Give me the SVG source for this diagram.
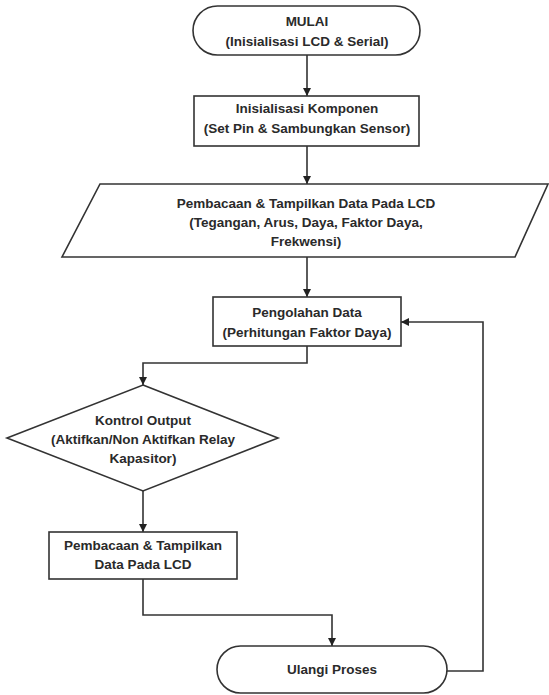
<svg xmlns="http://www.w3.org/2000/svg" width="549" height="695" viewBox="0 0 549 695">
<style>
.s{fill:#fff;stroke:#333;stroke-width:1.6}
.t{font-family:"Liberation Sans",Arial,sans-serif;font-weight:bold;font-size:13.5px;fill:#2a2a2a;text-anchor:middle}
.c{fill:none;stroke:#333;stroke-width:1.6}
</style>
<defs>
<marker id="a" viewBox="0 0 10 10" refX="10" refY="5" markerWidth="8" markerHeight="8" markerUnits="userSpaceOnUse" orient="auto">
<path d="M0,0L10,5L0,10z" fill="#222"/>
</marker>
</defs>
<rect width="549" height="695" fill="#fff"/>
<g id="connectors">
<path class="c" d="M307,55V96" marker-end="url(#a)"/>
<path class="c" d="M307,146V184" marker-end="url(#a)"/>
<path class="c" d="M307,257V297" marker-end="url(#a)"/>
<path class="c" d="M307,346V363H143V385" marker-end="url(#a)"/>
<path class="c" d="M143,491V532" marker-end="url(#a)"/>
<path class="c" d="M143,579V615H332V646" marker-end="url(#a)"/>
<path class="c" d="M447,671H483V322H401" marker-end="url(#a)"/>
</g>
<g id="start">
<rect class="s" x="193" y="6" width="227" height="49" rx="24.5"/>
<text class="t" x="307" y="26">MULAI</text>
<text class="t" x="307" y="46">(Inisialisasi LCD &amp; Serial)</text>
</g>
<g id="init">
<rect class="s" x="194" y="96" width="225" height="50"/>
<text class="t" x="307" y="113">Inisialisasi Komponen</text>
<text class="t" x="307" y="133">(Set Pin &amp; Sambungkan Sensor)</text>
</g>
<g id="read1">
<polygon class="s" points="100,184 548,184 515,257 62,257"/>
<text class="t" x="306" y="208">Pembacaan &amp; Tampilkan Data Pada LCD</text>
<text class="t" x="306" y="227">(Tegangan, Arus, Daya, Faktor Daya,</text>
<text class="t" x="306" y="246">Frekwensi)</text>
</g>
<g id="process">
<rect class="s" x="213" y="297" width="188" height="49"/>
<text class="t" x="307" y="317">Pengolahan Data</text>
<text class="t" x="307" y="337">(Perhitungan Faktor Daya)</text>
</g>
<g id="control">
<polygon class="s" points="143,385 278,438 143,491 7,438"/>
<text class="t" x="143" y="425">Kontrol Output</text>
<text class="t" x="143" y="444">(Aktifkan/Non Aktifkan Relay</text>
<text class="t" x="143" y="463">Kapasitor)</text>
</g>
<g id="read2">
<rect class="s" x="49" y="532" width="188" height="47"/>
<text class="t" x="143" y="550">Pembacaan &amp; Tampilkan</text>
<text class="t" x="143" y="569">Data Pada LCD</text>
</g>
<g id="repeat">
<rect class="s" x="217" y="646" width="230" height="47" rx="23.5"/>
<text class="t" x="332" y="674">Ulangi Proses</text>
</g>
</svg>
